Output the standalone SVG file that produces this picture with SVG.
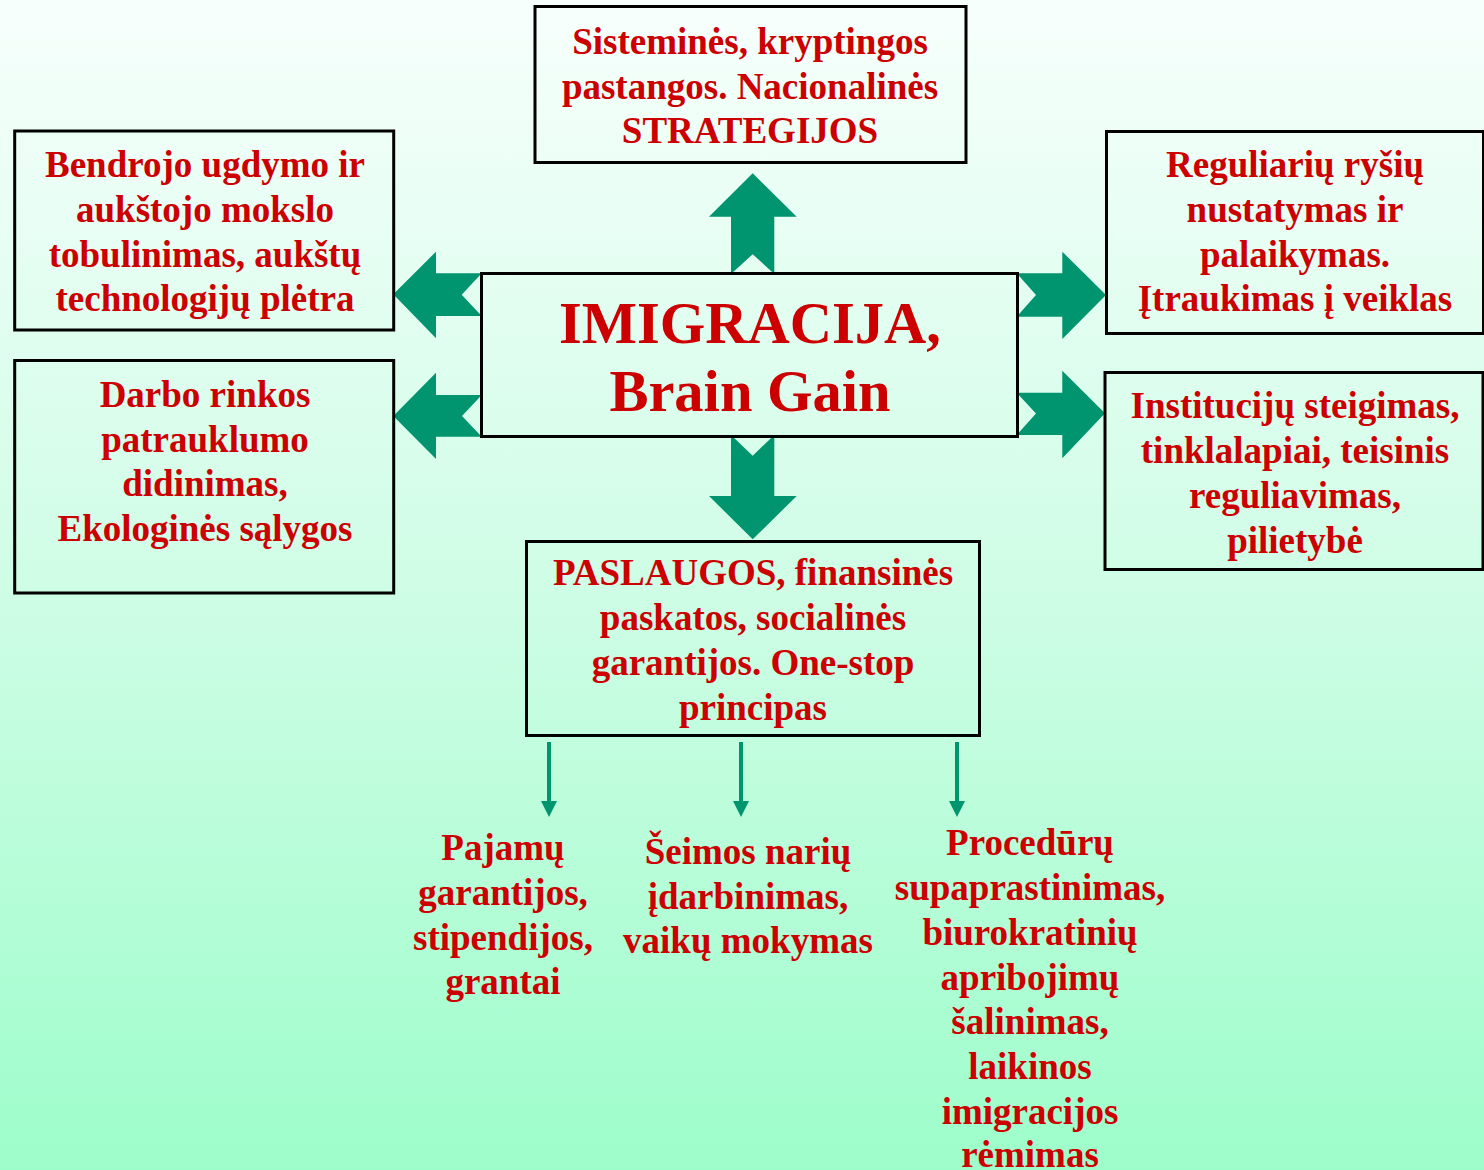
<svg xmlns="http://www.w3.org/2000/svg" width="1484" height="1170" viewBox="0 0 1484 1170">
<defs>
<linearGradient id="bg" x1="0" y1="0" x2="0" y2="1">
<stop offset="0" stop-color="#f7fffc"/>
<stop offset="0.5" stop-color="#cffde6"/>
<stop offset="1" stop-color="#9dfdca"/>
</linearGradient>
<style>
.box{fill:none;stroke:#000;stroke-width:3}
.t{font-family:"Liberation Serif","Times New Roman",serif;font-weight:bold;font-size:37px;fill:#cc0000;text-anchor:middle}
.big{font-size:58.5px}
.arr{fill:#00956f}
.thin{stroke:#00956f;stroke-width:4;fill:none}
</style>
</defs>
<rect width="1484" height="1170" fill="url(#bg)"/>
<g id="connectors">
<polygon class="arr" points="752.7,173.3 796.7,216.7 774.3,216.7 774.3,274 752.7,254.3 731,274 731,216.7 709,216.7"/>
<polygon class="arr" points="731,435 752.7,455.7 774.3,435 774.3,496 796.7,496 752.7,539.3 709,496 731,496"/>
<polygon class="arr" points="393.3,294.3 436,251.7 436,273.3 481.7,273.3 461.7,294.7 481.7,316 436,316 436,338.3"/>
<polygon class="arr" points="393.3,416 436,372.7 436,395 481.7,395 462,416 481.7,436.7 436,436.7 436,459"/>
<polygon class="arr" points="1106,295 1062.3,251.7 1062.3,273.3 1016.7,273.3 1036,295 1016.7,316.7 1062.3,316.7 1062.3,339"/>
<polygon class="arr" points="1105,413.3 1062.3,370.7 1062.3,392.7 1016.7,392.7 1036,413.5 1016.7,435 1062.3,435 1062.3,458.3"/>
<line class="thin" x1="549" y1="742" x2="549" y2="802"/>
<polygon class="arr" points="541,801 557,801 549,817"/>
<line class="thin" x1="741" y1="742" x2="741" y2="802"/>
<polygon class="arr" points="733,801 749,801 741,817"/>
<line class="thin" x1="957" y1="742" x2="957" y2="802"/>
<polygon class="arr" points="949,801 965,801 957,817"/>
</g>
<g id="center">
<rect class="box" x="481.5" y="273.5" width="536" height="163"/>
<text class="t big" x="750" y="343">IMIGRACIJA,</text>
<text class="t big" x="750" y="411">Brain Gain</text>
</g>
<g id="top">
<rect class="box" x="535" y="6.5" width="431" height="156"/>
<text class="t" x="750" y="54">Sisteminės, kryptingos</text>
<text class="t" x="750" y="99">pastangos. Nacionalinės</text>
<text class="t" x="750" y="143">STRATEGIJOS</text>
</g>
<g id="left-upper">
<rect class="box" x="14.7" y="131" width="379" height="199"/>
<text class="t" x="205" y="177">Bendrojo ugdymo ir</text>
<text class="t" x="205" y="222">aukštojo mokslo</text>
<text class="t" x="205" y="267">tobulinimas, aukštų</text>
<text class="t" x="205" y="311">technologijų plėtra</text>
</g>
<g id="left-lower">
<rect class="box" x="14.7" y="360.5" width="379" height="232.5"/>
<text class="t" x="205" y="407">Darbo rinkos</text>
<text class="t" x="205" y="452">patrauklumo</text>
<text class="t" x="205" y="496">didinimas,</text>
<text class="t" x="205" y="541">Ekologinės sąlygos</text>
</g>
<g id="right-upper">
<rect class="box" x="1106.5" y="131.5" width="377" height="202"/>
<text class="t" x="1295" y="177">Reguliarių ryšių</text>
<text class="t" x="1295" y="222">nustatymas ir</text>
<text class="t" x="1295" y="267">palaikymas.</text>
<text class="t" x="1295" y="311">Įtraukimas į veiklas</text>
</g>
<g id="right-lower">
<rect class="box" x="1105" y="372.5" width="378" height="197"/>
<text class="t" x="1295" y="418">Institucijų steigimas,</text>
<text class="t" x="1295" y="463">tinklalapiai, teisinis</text>
<text class="t" x="1295" y="508">reguliavimas,</text>
<text class="t" x="1295" y="553">pilietybė</text>
</g>
<g id="bottom">
<rect class="box" x="526.5" y="541.5" width="453" height="194"/>
<text class="t" x="753" y="585">PASLAUGOS, finansinės</text>
<text class="t" x="753" y="630">paskatos, socialinės</text>
<text class="t" x="753" y="675">garantijos. One-stop</text>
<text class="t" x="753" y="720">principas</text>
</g>
<g id="income">
<text class="t" x="503" y="860">Pajamų</text>
<text class="t" x="503" y="905">garantijos,</text>
<text class="t" x="503" y="950">stipendijos,</text>
<text class="t" x="503" y="994">grantai</text>
</g>
<g id="family">
<text class="t" x="748" y="864">Šeimos narių</text>
<text class="t" x="748" y="909">įdarbinimas,</text>
<text class="t" x="748" y="953">vaikų mokymas</text>
</g>
<g id="procedures">
<text class="t" x="1030" y="855">Procedūrų</text>
<text class="t" x="1030" y="900">supaprastinimas,</text>
<text class="t" x="1030" y="945">biurokratinių</text>
<text class="t" x="1030" y="990">apribojimų</text>
<text class="t" x="1030" y="1034">šalinimas,</text>
<text class="t" x="1030" y="1079">laikinos</text>
<text class="t" x="1030" y="1124">imigracijos</text>
<text class="t" x="1030" y="1167">rėmimas</text>
</g>
</svg>
